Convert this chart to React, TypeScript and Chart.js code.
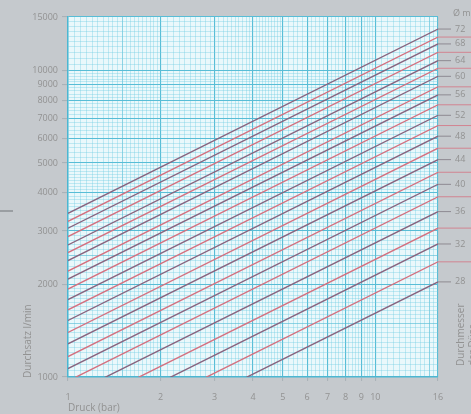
import React, { useEffect, useRef } from 'react';
import { Chart, registerables } from 'chart.js';
Chart.register(...registerables);

// Nozzle diameters (mm) and read flow rates (l/min) at 1 bar and 16 bar
const diameters = [72, 70, 68, 66, 64, 62, 60, 58, 56, 54, 52, 50, 48, 46, 44, 42, 40, 38, 36, 34, 32, 30, 28];
const flowAt1 = [3425, 3225, 3063, 2875, 2700, 2550, 2400, 2218, 2088, 1938, 1790, 1658, 1530, 1398, 1283, 1166, 1065, 970, 868, 766, 680, 595, 511];
const flowAt16 = [13700, 12900, 12250, 11500, 10800, 10200, 9600, 8870, 8350, 7750, 7160, 6630, 6120, 5590, 5130, 4665, 4260, 3880, 3470, 3065, 2720, 2378, 2045];
const pressureRange = [1, 16];

const xTickLabels = [1, 2, 3, 4, 5, 6, 7, 8, 9, 10, 16];
const yTickLabels = [1000, 2000, 3000, 4000, 5000, 6000, 7000, 8000, 9000, 10000, 15000];
const labeledDiameters = [72, 68, 64, 60, 56, 52, 48, 44, 40, 36, 32, 28];

// grid subdivisions: [from, to, step]
const xGridSteps = [[1, 2, 0.05], [2, 5, 0.1], [5, 10, 0.2], [10, 16, 0.5]];
const yGridSteps = [[1000, 2000, 50], [2000, 5000, 100], [5000, 10000, 200], [10000, 15000, 500]];
const xMedium = [1.5, 15];
const yMedium = [1500, 2500];

function buildGrid(steps: number[][]): number[] {
  const out: number[] = [];
  for (const [a, b, s] of steps) {
    const n = Math.round((b - a) / s);
    for (let i = 0; i < n; i++) out.push(Math.round((a + i * s) * 1000) / 1000);
  }
  out.push(steps[steps.length - 1][1]);
  return out;
}
const xGrid = buildGrid(xGridSteps);
const yGrid = buildGrid(yGridSteps);

const DARK = '#88647f';
const RED = '#d4707f';
const TEXT = '#929292';
const FONT = '"Open Sans", "DejaVu Sans", sans-serif';

function gridColor(v: number, majors: number[], mediums: number[]) {
  if (majors.includes(v)) return '#58bdd6';
  if (mediums.includes(v)) return 'rgba(88,189,214,0.8)';
  return 'rgba(110,205,228,0.45)';
}

export default function App() {
  const ref = useRef<HTMLCanvasElement | null>(null);
  useEffect(() => {
    document.body.style.margin = '0';
    const canvas = ref.current!;
    const datasets = diameters.map((d, i) => ({
      label: 'Ø ' + d,
      data: [
        { x: pressureRange[0], y: flowAt1[i] },
        { x: pressureRange[1], y: flowAt16[i] },
      ],
      borderColor: labeledDiameters.includes(d) ? DARK : RED,
      borderWidth: 1.4,
      pointRadius: 0,
      tension: 0,
    }));

    const decor = {
      id: 'decor',
      beforeDraw(chart: any) {
        const { ctx, chartArea: a } = chart;
        ctx.save();
        ctx.fillStyle = '#eaf8fb';
        ctx.fillRect(a.left, a.top, a.right - a.left, a.bottom - a.top);
        ctx.restore();
      },
      afterDraw(chart: any) {
        const { ctx, chartArea: a } = chart;
        const y = chart.scales.y;
        ctx.save();
        ctx.font = '9px ' + FONT;
        ctx.textBaseline = 'middle';
        diameters.forEach((d, i) => {
          const py = y.getPixelForValue(flowAt16[i]);
          if (labeledDiameters.includes(d)) {
            ctx.strokeStyle = '#8e8a92';
            ctx.lineWidth = 1;
            ctx.beginPath();
            ctx.moveTo(a.right, py);
            ctx.lineTo(a.right + 13, py);
            ctx.stroke();
            ctx.fillStyle = TEXT;
            ctx.textAlign = 'left';
            ctx.fillText(String(d), a.right + 17, py);
          } else {
            ctx.strokeStyle = 'rgba(214,110,125,0.75)';
            ctx.lineWidth = 1;
            ctx.beginPath();
            ctx.moveTo(a.right, py);
            ctx.lineTo(471, py);
            ctx.stroke();
          }
        });
        ctx.fillStyle = TEXT;
        ctx.textAlign = 'left';
        ctx.fillText('Ø mm', 453, 13);

        // left small dash
        ctx.strokeStyle = '#9a9ea2';
        ctx.lineWidth = 2;
        ctx.beginPath();
        ctx.moveTo(0, 211);
        ctx.lineTo(13, 211);
        ctx.stroke();

        // axis titles
        ctx.font = '10px ' + FONT;
        ctx.fillStyle = TEXT;
        ctx.textBaseline = 'middle';
        ctx.textAlign = 'left';
        ctx.fillText('Druck (bar)', 68, 408);

        ctx.save();
        ctx.translate(28, 378);
        ctx.rotate(-Math.PI / 2);
        ctx.fillText('Durchsatz l/min', 0, 0);
        ctx.restore();

        ctx.save();
        ctx.translate(461, 366);
        ctx.rotate(-Math.PI / 2);
        ctx.fillText('Durchmesser', 0, 0);
        ctx.restore();

        ctx.save();
        ctx.translate(473, 366);
        ctx.rotate(-Math.PI / 2);
        ctx.fillText('der Düse', 0, 0);
        ctx.restore();

        ctx.restore();
      },
    };

    const chart = new Chart(canvas, {
      type: 'line',
      data: { datasets },
      plugins: [decor],
      options: {
        animation: false,
        responsive: true,
        maintainAspectRatio: false,
        layout: { padding: { top: 17, right: 33, left: 0, bottom: 0 } },
        plugins: { legend: { display: false }, tooltip: { enabled: false } },
        scales: {
          x: {
            type: 'logarithmic',
            min: 1,
            max: 16,
            afterBuildTicks: (s: any) => { s.ticks = xGrid.map((v) => ({ value: v })); },
            afterFit: (s: any) => { s.height = 37; },
            border: { display: true, color: '#4cb7d2', width: 1.5 },
            grid: {
              color: (c: any) => gridColor(c.tick?.value, xTickLabels, xMedium),
              lineWidth: (c: any) => (xTickLabels.includes(c.tick?.value) ? 1.1 : 0.8),
              tickColor: (c: any) => (xTickLabels.includes(c.tick?.value) ? '#aab2b8' : 'rgba(0,0,0,0)'),
              tickLength: 4,
            },
            ticks: {
              autoSkip: false,
              maxRotation: 0,
              minRotation: 0,
              padding: 11,
              color: TEXT,
              font: { family: FONT, size: 9 },
              callback: (v: any) => (xTickLabels.includes(v) ? String(v) : ''),
            },
          },
          y: {
            type: 'logarithmic',
            min: 1000,
            max: 15000,
            afterBuildTicks: (s: any) => { s.ticks = yGrid.map((v) => ({ value: v })); },
            afterFit: (s: any) => { s.width = 68; },
            border: { display: true, color: '#4cb7d2', width: 1.5 },
            grid: {
              color: (c: any) => gridColor(c.tick?.value, yTickLabels, yMedium),
              lineWidth: (c: any) => (yTickLabels.includes(c.tick?.value) ? 1.1 : 0.8),
              tickColor: (c: any) => (yTickLabels.includes(c.tick?.value) ? '#aab2b8' : 'rgba(0,0,0,0)'),
              tickLength: 6,
            },
            ticks: {
              autoSkip: false,
              padding: 4,
              color: TEXT,
              font: { family: FONT, size: 9 },
              callback: (v: any) => (yTickLabels.includes(v) ? String(v) : ''),
            },
          },
        },
      },
    } as any);
    return () => chart.destroy();
  }, []);

  return (
    <div style={{ width: 471, height: 414, background: '#c5c9cd', position: 'relative' }}>
      <canvas ref={ref} />
    </div>
  );
}
